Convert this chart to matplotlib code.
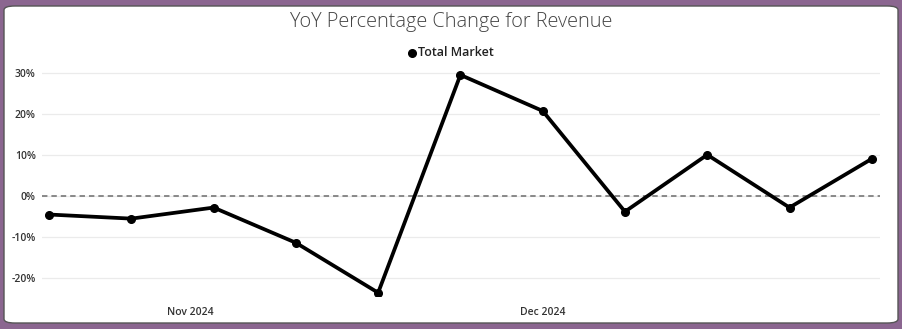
import matplotlib.pyplot as plt
import matplotlib.dates as mdates
from matplotlib.patches import FancyBboxPatch
from matplotlib.lines import Line2D
from matplotlib.ticker import FuncFormatter
import pandas as pd

# weekly YoY revenue change, total market
weeks = pd.to_datetime([
    "2024-10-20", "2024-10-27", "2024-11-03", "2024-11-10", "2024-11-17",
    "2024-11-24", "2024-12-01", "2024-12-08", "2024-12-15", "2024-12-22",
    "2024-12-29",
])
yoy_pct = [-4.6, -5.6, -2.9, -11.5, -23.7, 29.5, 20.7, -3.9, 10.0, -2.9, 9.0]
series_name = "Total Market"
title = "YoY Percentage Change for Revenue"
y_ticks = [-20, -10, 0, 10, 20, 30]
month_ticks = pd.to_datetime(["2024-11-01", "2024-12-01"])

W, H = 903, 329
fig = plt.figure(figsize=(W / 100, H / 100), dpi=100)
fig.patch.set_facecolor("#8b6690")

# white card behind everything
card = FancyBboxPatch((4 / W, 6 / H), 894 / W, 317 / H,
                      boxstyle="round,pad=0,rounding_size=0.012",
                      transform=fig.transFigure, facecolor="white",
                      edgecolor="#555555", linewidth=1.0, zorder=-5)
fig.patches.append(card)

# axes: x 42..880 px, y 70..296 px
ax = fig.add_axes([42 / W, 1 - 296 / H, (880 - 42) / W, (296 - 70) / H], zorder=2)
ax.set_facecolor("none")

ax.plot(weeks, yoy_pct, color="black", linewidth=2.7, marker="o",
        markersize=5.5, zorder=3, solid_joinstyle="miter")
ax.axhline(0, color="#808080", linestyle=(0, (3, 2.2)), linewidth=1.3, zorder=2)

ax.set_ylim(-24.5, 30.7)
ax.set_xlim(weeks[0] - pd.Timedelta(days=0.6), weeks[-1] + pd.Timedelta(days=0.7))
ax.set_yticks(y_ticks)
ax.yaxis.set_major_formatter(FuncFormatter(lambda v, _: f"{v:.0f}%"))
ax.set_xticks(month_ticks)
ax.xaxis.set_major_formatter(mdates.DateFormatter("%b %Y"))

ax.grid(axis="y", color="#ebebeb", linewidth=0.9, zorder=1)
for s in ax.spines.values():
    s.set_visible(False)
ax.tick_params(length=0, colors="#333333", labelsize=7.5)
ax.tick_params(axis="y", pad=4.5)
ax.tick_params(axis="x", pad=8)
for lbl in ax.get_xticklabels() + ax.get_yticklabels():
    lbl.set_fontweight("semibold")
    lbl.set_fontfamily("Open Sans")

fig.text(0.5, 1 - 22 / H, title, ha="center", va="center",
         fontsize=14.3, color="#444444", fontfamily="Open Sans", fontweight="light")

# legend
fig.add_artist(Line2D([412 / W], [1 - 53 / H], marker="o", markersize=5.5,
                      color="black", linestyle="none", transform=fig.transFigure))
fig.text(418 / W, 1 - 53 / H, series_name, ha="left", va="center",
         fontsize=9, color="#222222", fontfamily="Open Sans", fontweight="semibold")

fig.savefig("out.png", dpi=100, facecolor=fig.get_facecolor())
